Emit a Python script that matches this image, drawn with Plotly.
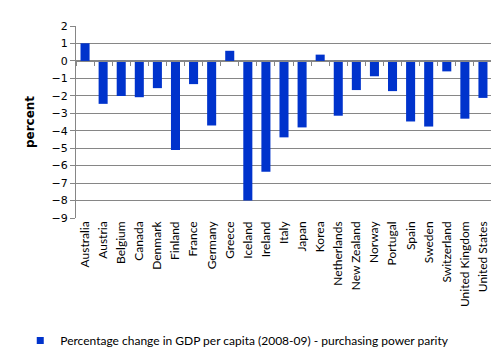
import plotly.graph_objects as go

countries = ["Australia", "Austria", "Belgium", "Canada", "Denmark", "Finland", "France",
             "Germany", "Greece", "Iceland", "Ireland", "Italy", "Japan", "Korea",
             "Netherlands", "New Zealand", "Norway", "Portugal", "Spain", "Sweden",
             "Switzerland", "United Kingdom", "United States"]
values = [1.01, -2.46, -2.01, -2.08, -1.56, -5.11, -1.33, -3.70, 0.58, -8.0, -6.35,
          -4.38, -3.81, 0.36, -3.14, -1.67, -0.88, -1.73, -3.47, -3.76, -0.60, -3.31, -2.12]
y_ticks = list(range(-9, 3))
series_name = "Percentage change in GDP per capita (2008-09) - purchasing power parity"

n = len(countries)
idx = list(range(n))
y_min, y_max = -9, 2
bar_color = "#0033CC"

fig = go.Figure()
fig.add_trace(go.Bar(x=idx, y=values, name=series_name, marker_color=bar_color,
                     marker_line_width=0, width=0.5, showlegend=False))
# legend entry with a small square swatch
fig.add_trace(go.Scatter(x=[None], y=[None], mode="markers", name=series_name,
                         marker=dict(symbol="square", size=7, color=bar_color),
                         showlegend=True, hoverinfo="skip"))
# invisible trace to carry the category axis at zero
fig.add_trace(go.Scatter(x=[idx[0]], y=[0], xaxis="x2", mode="markers",
                         marker_opacity=0, showlegend=False, hoverinfo="skip"))

font_fam = "Lato, 'Open Sans', sans-serif"
fig.update_layout(
    width=499, height=359,
    margin=dict(l=67, r=15, t=15, b=148),
    plot_bgcolor="white", paper_bgcolor="white",
    font=dict(family=font_fam, size=12, color="black"),
    showlegend=True,
    legend=dict(orientation="h", x=-0.134, xanchor="left", y=-0.638, yanchor="middle",
                font=dict(family=font_fam, size=12), itemwidth=30, bgcolor="rgba(0,0,0,0)"),
    bargap=0.5,
    xaxis=dict(range=[-0.5, n - 0.5], tickmode="array", tickvals=idx, ticktext=countries,
               tickangle=-90, showgrid=False, zeroline=False, showline=False, ticks="",
               tickfont=dict(family=font_fam, size=12)),
    xaxis2=dict(overlaying="x", anchor="free",
                position=(0 - y_min) / (y_max - y_min),
                range=[-0.5, n - 0.5], tickmode="array",
                tickvals=[i - 0.5 for i in range(n + 1)], showticklabels=False,
                ticks="outside", ticklen=4, tickcolor="#868686", tickwidth=1,
                showline=True, linecolor="#868686", linewidth=1, showgrid=False,
                zeroline=False),
    yaxis=dict(range=[y_min, y_max], tickmode="array", tickvals=y_ticks,
               showgrid=True, gridcolor="#868686", gridwidth=1, zeroline=False,
               showline=True, linecolor="#868686", linewidth=1,
               ticks="outside", ticklen=5, tickcolor="#868686",
               tickfont=dict(family="'DejaVu Sans', sans-serif", size=11),
               title=dict(text="<b>percent</b>", standoff=14,
                          font=dict(family="'DejaVu Sans', sans-serif", size=12))),
)
fig.write_html("out.html")
